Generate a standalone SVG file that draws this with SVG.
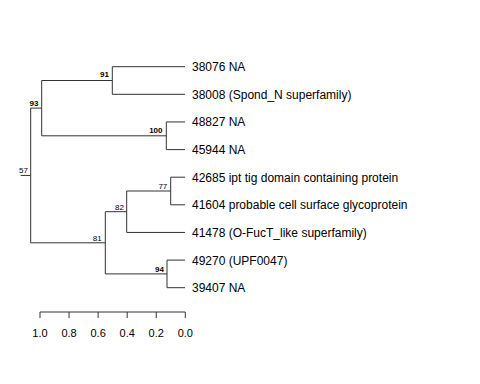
<svg xmlns="http://www.w3.org/2000/svg" width="480" height="384" viewBox="0 0 480 384">
<style>
.e{stroke:#333;stroke-width:1;fill:none}
.tip{font-family:"Liberation Sans",Arial,sans-serif;font-size:12px;fill:#000}
.nl{font-family:"Liberation Sans",Arial,sans-serif;font-size:8px;fill:#000;text-anchor:end}
.b{font-weight:bold}
.ax{font-family:"Liberation Sans",Arial,sans-serif;font-size:11px;fill:#000;text-anchor:middle}
</style>
<rect width="480" height="384" fill="#fff"/>
<g id="connectors">
<path class="e" d="M20.7 175.45H30.7M30.7 108.1V242.8M30.7 108.1H41.7M30.7 242.8H105.3"/>
<path class="e" d="M41.7 80.5V135.8M41.7 80.5H112.3M41.7 135.8H166.3"/>
<path class="e" d="M112.3 66.7V94.3M112.3 66.7H185M112.3 94.3H185"/>
<path class="e" d="M166.3 121.95V149.6M166.3 121.95H185M166.3 149.6H185"/>
<path class="e" d="M105.3 211.7V273.9M105.3 211.7H126.7M105.3 273.9H167"/>
<path class="e" d="M126.7 191V232.45M126.7 191H170.7M126.7 232.45H185"/>
<path class="e" d="M170.7 177.2V204.8M170.7 177.2H185M170.7 204.8H185"/>
<path class="e" d="M167 260.1V287.7M167 260.1H185M167 287.7H185"/>
</g>
<g id="tip-38076"><text class="tip" x="192" y="71.2">38076 NA</text></g>
<g id="tip-38008"><text class="tip" x="192" y="98.8">38008 (Spond_N superfamily)</text></g>
<g id="tip-48827"><text class="tip" x="192" y="126.45">48827 NA</text></g>
<g id="tip-45944"><text class="tip" x="192" y="154.1">45944 NA</text></g>
<g id="tip-42685"><text class="tip" x="192" y="181.7">42685 ipt tig domain containing protein</text></g>
<g id="tip-41604"><text class="tip" x="192" y="209.3">41604 probable cell surface glycoprotein</text></g>
<g id="tip-41478"><text class="tip" x="192" y="236.95">41478 (O-FucT_like superfamily)</text></g>
<g id="tip-49270"><text class="tip" x="192" y="264.6">49270 (UPF0047)</text></g>
<g id="tip-39407"><text class="tip" x="192" y="292.2">39407 NA</text></g>
<g id="node-91"><text class="nl b" x="109" y="77">91</text></g>
<g id="node-93"><text class="nl b" x="38.5" y="105.5">93</text></g>
<g id="node-100"><text class="nl b" x="162.5" y="133">100</text></g>
<g id="node-57"><text class="nl" x="28" y="172.5">57</text></g>
<g id="node-77"><text class="nl" x="167.3" y="189">77</text></g>
<g id="node-82"><text class="nl" x="124" y="209.5">82</text></g>
<g id="node-81"><text class="nl" x="101.7" y="240.5">81</text></g>
<g id="node-94"><text class="nl b" x="164" y="271.5">94</text></g>
<g id="axis">
<path class="e" d="M40 312H185.3M40 312V318M69.06 312V318M98.12 312V318M127.18 312V318M156.24 312V318M185.3 312V318"/>
<text class="ax" x="40" y="337">1.0</text>
<text class="ax" x="69.06" y="337">0.8</text>
<text class="ax" x="98.12" y="337">0.6</text>
<text class="ax" x="127.18" y="337">0.4</text>
<text class="ax" x="156.24" y="337">0.2</text>
<text class="ax" x="185.3" y="337">0.0</text>
</g>
</svg>
